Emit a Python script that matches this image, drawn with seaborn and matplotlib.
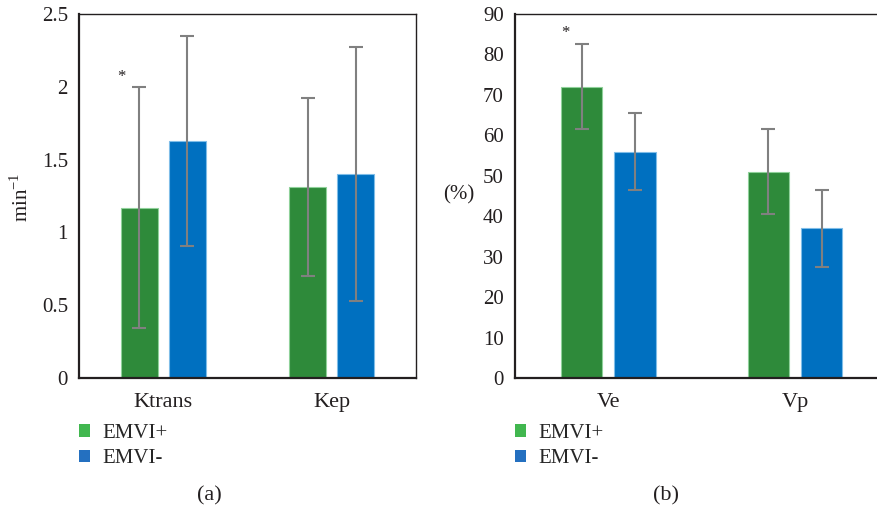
import matplotlib
matplotlib.use("Agg")
import matplotlib.pyplot as plt
import seaborn as sns
import pandas as pd
import numpy as np
from matplotlib.patches import Patch

sns.set_theme(style="white")
plt.rcParams['font.family'] = ['Liberation Serif', 'DejaVu Serif']

groups = ["EMVI+", "EMVI-"]

cats_a = ["Ktrans", "Kep"]
mean_a_pos = [1.17, 1.31]
mean_a_neg = [1.63, 1.40]
err_a_pos = [0.83, 0.61]
err_a_neg = [0.72, 0.87]

cats_b = ["Ve", "Vp"]
mean_b_pos = [72.0, 51.0]
mean_b_neg = [56.0, 37.0]
err_b_pos = [10.5, 10.5]
err_b_neg = [9.5, 9.5]

bar_colors = {"EMVI+": "#2e8a3a", "EMVI-": "#0070c0"}
edge_colors = {"EMVI+": "#8fd19a", "EMVI-": "#7fbde8"}
legend_colors = {"EMVI+": "#41b74f", "EMVI-": "#2470c0"}
text_color = "#231f20"

fig = plt.figure(figsize=(8.77, 5.09), dpi=100)
W, H = 877, 509
ax_a = fig.add_axes([79 / W, 1 - 378 / H, 337 / W, 364 / H])
ax_b = fig.add_axes([515 / W, 1 - 378 / H, 373.3 / W, 364 / H])


def panel(ax, cats, mpos, mneg, epos, eneg, ylim, yticks, yticklabels):
    df = pd.DataFrame({
        "cat": cats + cats,
        "group": [groups[0]] * len(cats) + [groups[1]] * len(cats),
        "value": list(mpos) + list(mneg),
    })
    sns.barplot(data=df, x="cat", y="value", hue="group", order=cats,
                hue_order=groups, palette=bar_colors, errorbar=None,
                width=0.57, gap=0.22, ax=ax, legend=False, saturation=1)
    errs = list(epos) + list(eneg)
    vals = list(mpos) + list(mneg)
    for i, p in enumerate(ax.patches):
        g = groups[0] if i < len(cats) else groups[1]
        p.set_edgecolor(edge_colors[g])
        p.set_linewidth(0.8)
        xc = p.get_x() + p.get_width() / 2
        ax.errorbar(xc, vals[i], yerr=errs[i], color="#808080", capsize=5,
                    elinewidth=1.5, capthick=1.5, zorder=5)
    ax.set_xlim(-0.5, 1.5)
    ax.set_ylim(*ylim)
    ax.set_yticks(yticks)
    ax.set_yticklabels(yticklabels)
    ax.set_xlabel("")
    ax.set_ylabel("")
    ax.tick_params(axis="both", length=0, labelsize=15, colors=text_color, pad=8)
    ax.tick_params(axis="x", labelsize=16, pad=11)
    for s in ["left", "bottom"]:
        ax.spines[s].set_linewidth(1.6)
        ax.spines[s].set_color(text_color)
    for s in ["top", "right"]:
        ax.spines[s].set_linewidth(1.0)
        ax.spines[s].set_color(text_color)
    handles = [Patch(facecolor=legend_colors[g], edgecolor="none", label=g) for g in groups]
    return handles


h = panel(ax_a, cats_a, mean_a_pos, mean_a_neg, err_a_pos, err_a_neg,
          (0, 2.5), [0, 0.5, 1, 1.5, 2, 2.5], ["0", "0.5", "1", "1.5", "2", "2.5"])
panel(ax_b, cats_b, mean_b_pos, mean_b_neg, err_b_pos, err_b_neg,
      (0, 90), list(range(0, 91, 10)), [str(v) for v in range(0, 91, 10)])

ax_a.text(-0.246, 2.07, "*", ha="center", va="center", fontsize=12, color=text_color)
ax_b.text(-0.23, 85.2, "*", ha="center", va="center", fontsize=12, color=text_color)

fig.text(22 / W, 1 - 197 / H, "min$^{\\mathregular{-1}}$", rotation=90, ha="center", va="center",
         fontsize=15, color=text_color)
fig.text(459 / W, 1 - 195 / H, "(%)", ha="center", va="center", fontsize=15, color=text_color)

fig.text(209 / W, 1 - 496 / H, "(a)", ha="center", va="center", fontsize=16, color=text_color)
fig.text(666 / W, 1 - 496 / H, "(b)", ha="center", va="center", fontsize=16, color=text_color)

for x0 in [79, 515]:
    fig.legend(handles=h, loc="upper left", bbox_to_anchor=(x0 / W, 1 - 424 / H),
               frameon=False, fontsize=15, handlelength=0.55, handleheight=0.55,
               handletextpad=0.55, labelspacing=0.3, borderpad=0, borderaxespad=0)

fig.savefig("out.png", dpi=100)
